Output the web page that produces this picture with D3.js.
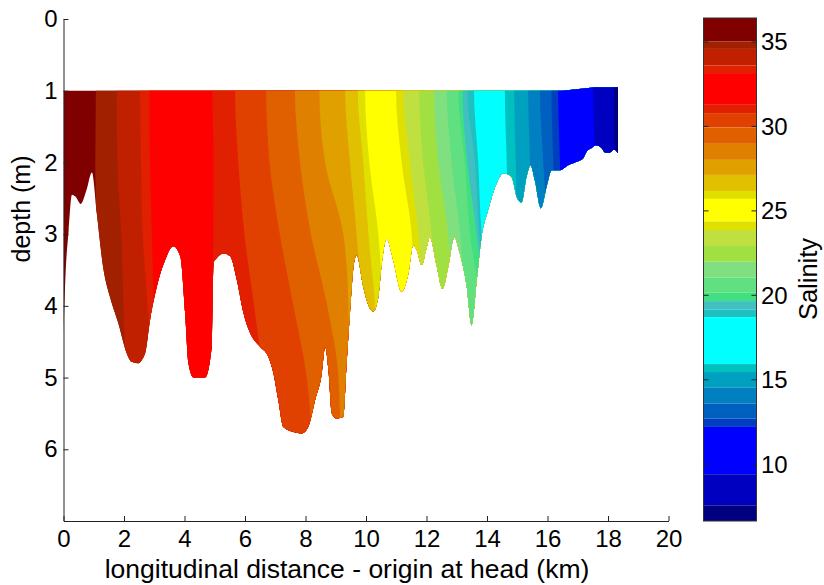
<!DOCTYPE html>
<html>
<head>
<meta charset="utf-8">
<script src="https://cdn.jsdelivr.net/npm/d3@7"></script>
<style>
body{margin:0;background:#fff;}
text{font-family:Arial,"Liberation Sans",sans-serif;fill:#000;}
</style>
</head>
<body>
<div id="canvas" class="canvas"></div>
<script>
// --- salinity class edges (high -> low), one colour per class
var levels = [36.42, 35.04, 34.59, 33.61, 33.16, 31.28, 30.79, 29.94, 28.97, 28.02,
              27.13, 26.18, 25.71, 24.37, 23.87, 22.92, 21.99, 21.05, 20.16, 19.66,
              19.17, 18.71, 15.93, 15.46, 14.55, 13.60, 12.71, 12.21, 9.41, 7.57, 6.64];
var bandColors = ['#800000','#a02000','#c02000','#e02000','#ff0000','#e02000','#e04000','#e06000',
                  '#e08000','#e0a000','#e0c000','#e0e000','#ffff00','#e0e000','#c0e040','#a0e040',
                  '#80e080','#60e080','#40e080','#40c0c0','#20c0c0','#00ffff','#00c0c0','#00a0c0',
                  '#0080c0','#0060c0','#0040c0','#0000ff','#0000c0','#000080'];

// --- isohalines: distance (km) of each inner level at these depths (m)
var isoDepths = [1, 2, 3, 4, 5, 6];
var isohalines = [
  [1.07, 1.05, 1.10, 1.20, 1.30, 1.40],
  [1.76, 1.78, 1.91, 1.98, 2.05, 2.10],
  [2.53, 2.56, 2.62, 2.78, 2.95, 3.00],
  [2.84, 2.86, 2.92, 2.98, 3.05, 3.10],
  [4.92, 4.96, 4.95, 4.93, 4.93, 4.93],
  [5.67, 5.78, 5.98, 6.30, 6.60, 6.80],
  [6.70, 6.81, 7.15, 7.60, 8.04, 8.20],
  [7.65, 7.82, 8.18, 8.72, 9.09, 9.16],
  [8.46, 8.65, 9.25, 9.42, 9.45, 9.50],
  [9.31, 9.47, 9.69, 9.85, 9.90, 9.95],
  [9.73, 9.91, 10.08, 10.30, 10.40, 10.50],
  [9.97, 10.11, 10.41, 10.55, 10.60, 10.70],
  [10.99, 11.18, 11.51, 11.60, 11.70, 11.80],
  [11.23, 11.45, 11.73, 11.85, 11.90, 12.00],
  [11.76, 11.89, 12.17, 12.30, 12.40, 12.50],
  [12.25, 12.39, 12.72, 12.85, 12.90, 13.00],
  [12.67, 12.83, 13.11, 13.25, 13.30, 13.40],
  [13.05, 13.27, 13.44, 13.80, 13.90, 14.00],
  [13.19, 13.35, 13.66, 13.90, 14.00, 14.10],
  [13.35, 13.60, 13.74, 14.00, 14.10, 14.20],
  [13.57, 13.71, 13.82, 14.05, 14.15, 14.25],
  [14.59, 14.65, 14.70, 14.75, 14.80, 14.85],
  [14.90, 14.95, 15.00, 15.05, 15.10, 15.15],
  [15.36, 15.42, 15.45, 15.50, 15.55, 15.60],
  [15.75, 15.86, 16.00, 16.05, 16.10, 16.15],
  [16.13, 16.19, 16.25, 16.30, 16.35, 16.40],
  [16.35, 16.41, 16.45, 16.50, 16.55, 16.60],
  [17.51, 17.57, 17.60, 17.65, 17.70, 17.75],
  [18.19, 18.22, 18.25, 18.30, 18.35, 18.40]
];

// --- channel bed (depth in m) along the section
var bedKm = [0.00, 0.03, 0.06, 0.17, 0.28, 0.40, 0.57, 0.75, 0.94, 1.10, 1.31, 1.54, 1.81, 2.09, 2.25, 2.45,
             2.70, 2.86, 3.08, 3.36, 3.63, 3.86, 4.02, 4.13, 4.30, 4.68, 4.90, 4.96, 5.05, 5.29, 5.51, 5.73,
             5.95, 6.17, 6.50, 6.77, 6.94, 7.10, 7.27, 7.60, 7.88, 8.09, 8.32, 8.54, 8.65, 8.76, 8.87, 9.03,
             9.25, 9.36, 9.47, 9.60, 9.69, 9.91, 10.02, 10.24, 10.41, 10.52, 10.68, 10.90, 11.18, 11.40, 11.56, 11.68,
             11.84, 12.01, 12.11, 12.34, 12.53, 12.72, 12.92, 13.10, 13.33, 13.49, 13.66, 13.82, 14.04, 14.32, 14.54, 14.81,
             14.98, 15.14, 15.31, 15.44, 15.58, 15.78, 15.97, 16.14, 16.41, 16.68, 16.96, 17.18, 17.29, 17.46, 17.60, 17.79,
             17.90, 18.06, 18.20, 18.33];
var bedDepth = [4.40, 4.00, 3.64, 2.95, 2.45, 2.48, 2.58, 2.40, 2.14, 2.71, 3.46, 3.88, 4.24, 4.66, 4.78, 4.80,
                4.66, 4.20, 3.74, 3.36, 3.17, 3.31, 4.10, 4.80, 5.00, 5.00, 4.57, 3.40, 3.34, 3.27, 3.31, 3.64,
                4.10, 4.38, 4.57, 4.71, 4.94, 5.31, 5.69, 5.76, 5.78, 5.69, 5.31, 4.94, 4.57, 4.90, 5.50, 5.57,
                5.55, 4.80, 4.10, 3.41, 3.29, 3.73, 3.92, 4.08, 3.87, 3.41, 3.06, 3.36, 3.80, 3.55, 3.15, 3.22,
                3.43, 3.18, 3.04, 3.45, 3.76, 3.45, 3.04, 3.27, 3.73, 4.27, 3.64, 3.04, 2.66, 2.29, 2.15, 2.20,
                2.48, 2.56, 2.20, 2.04, 2.25, 2.64, 2.34, 2.11, 2.11, 2.04, 1.99, 1.94, 1.85, 1.80, 1.76, 1.80,
                1.86, 1.86, 1.82, 1.87];
// --- top of the measured section
var surfKm = [0, 16.5, 17.2, 17.5, 18.33];
var surfDepth = [1.0, 1.0, 0.97, 0.955, 0.955];

var xTicks = [0, 2, 4, 6, 8, 10, 12, 14, 16, 18, 20];
var yTicks = [0, 1, 2, 3, 4, 5, 6];
var cTicks = [10, 15, 20, 25, 30, 35];

var W = 824, H = 585;
var svg = d3.select('#canvas').append('svg')
    .attr('width', W).attr('height', H);

var x = d3.scaleLinear().domain([0, 20]).range([63.5, 668.5]);
var y = d3.scaleLinear().domain([0, 7]).range([19, 521]);
var c = d3.scaleLinear().domain([6.64, 36.42]).range([521, 18]);

// --- water column clip
var bedPts = bedKm.map(function(k, i){ return [x(k), y(bedDepth[i])]; });
var surfPts = surfKm.map(function(k, i){ return [x(k), y(surfDepth[i])]; }).reverse();
var bedLine = d3.line().curve(d3.curveMonotoneX);
var waterPath = bedLine(bedPts) + surfPts.map(function(p){ return 'L' + p[0] + ',' + p[1]; }).join('') + 'Z';

svg.append('clipPath').attr('id', 'water')
   .append('path').attr('d', waterPath);

// --- bands: each drawn from its left isohaline to the far right, painted left to right
var band = d3.area().curve(d3.curveMonotoneY)
    .y(function(d){ return y(d.d); })
    .x0(function(d){ return x(d.a); })
    .x1(function(){ return x(20); });

var gBands = svg.append('g').attr('clip-path', 'url(#water)');
bandColors.forEach(function(col, i){
    var left = i === 0 ? isoDepths.map(function(){ return 0; }) : isohalines[i - 1];
    var pts = isoDepths.map(function(d, j){ return {d: d, a: left[j]}; });
    pts.unshift({d: 0, a: left[0]});
    pts.push({d: 7, a: left[left.length - 1]});
    gBands.append('path')
        .attr('d', band(pts))
        .style('fill', col)
        .style('stroke', 'none');
});

// --- axes
var fs = 24;
var gx = svg.append('g').attr('transform', 'translate(0,' + y(7) + ')')
    .call(d3.axisBottom(x).tickValues(xTicks).tickFormat(d3.format('d'))
        .tickSizeInner(-5).tickSizeOuter(0).tickPadding(9));
var gy = svg.append('g').attr('transform', 'translate(' + x(0) + ',0)')
    .call(d3.axisLeft(y).tickValues(yTicks).tickFormat(d3.format('d'))
        .tickSizeInner(-5).tickSizeOuter(0).tickPadding(6));
[gx, gy].forEach(function(g){
    g.selectAll('text').style('font-size', fs + 'px').style('font-family', 'Arial, "Liberation Sans", sans-serif').attr('fill', '#000');
    g.selectAll('line, path').attr('stroke', '#222');
});

svg.append('text')
    .attr('x', 347).attr('y', 578)
    .attr('text-anchor', 'middle')
    .style('font-size', '26.5px')
    .text('longitudinal distance - origin at head (km)');

svg.append('text')
    .attr('transform', 'translate(30,209) rotate(-90)')
    .attr('text-anchor', 'middle')
    .style('font-size', '25px')
    .text('depth (m)');

// --- colorbar
var cb = svg.append('g');
var cx0 = 703.5, cx1 = 756.5;
d3.range(bandColors.length).forEach(function(i){
    cb.append('rect')
        .attr('x', cx0).attr('width', cx1 - cx0)
        .attr('y', c(levels[i])).attr('height', c(levels[i + 1]) - c(levels[i]))
        .style('fill', bandColors[i]);
});
cb.append('rect')
    .attr('x', cx0).attr('y', c(levels[0]))
    .attr('width', cx1 - cx0).attr('height', c(levels[levels.length - 1]) - c(levels[0]))
    .style('fill', 'none').style('stroke', '#333').style('stroke-width', 1);
cTicks.forEach(function(t){
    cb.append('line').attr('x1', cx0).attr('x2', cx0 + 5).attr('y1', c(t)).attr('y2', c(t)).style('stroke', '#222');
    cb.append('line').attr('x1', cx1 - 5).attr('x2', cx1).attr('y1', c(t)).attr('y2', c(t)).style('stroke', '#222');
    cb.append('text')
        .attr('x', 761).attr('y', c(t)).attr('dy', '0.35em')
        .style('font-size', fs + 'px')
        .text(t);
});
svg.append('text')
    .attr('transform', 'translate(817,279) rotate(-90)')
    .attr('text-anchor', 'middle')
    .style('font-size', '25.5px')
    .text('Salinity');
</script>
</body>
</html>
